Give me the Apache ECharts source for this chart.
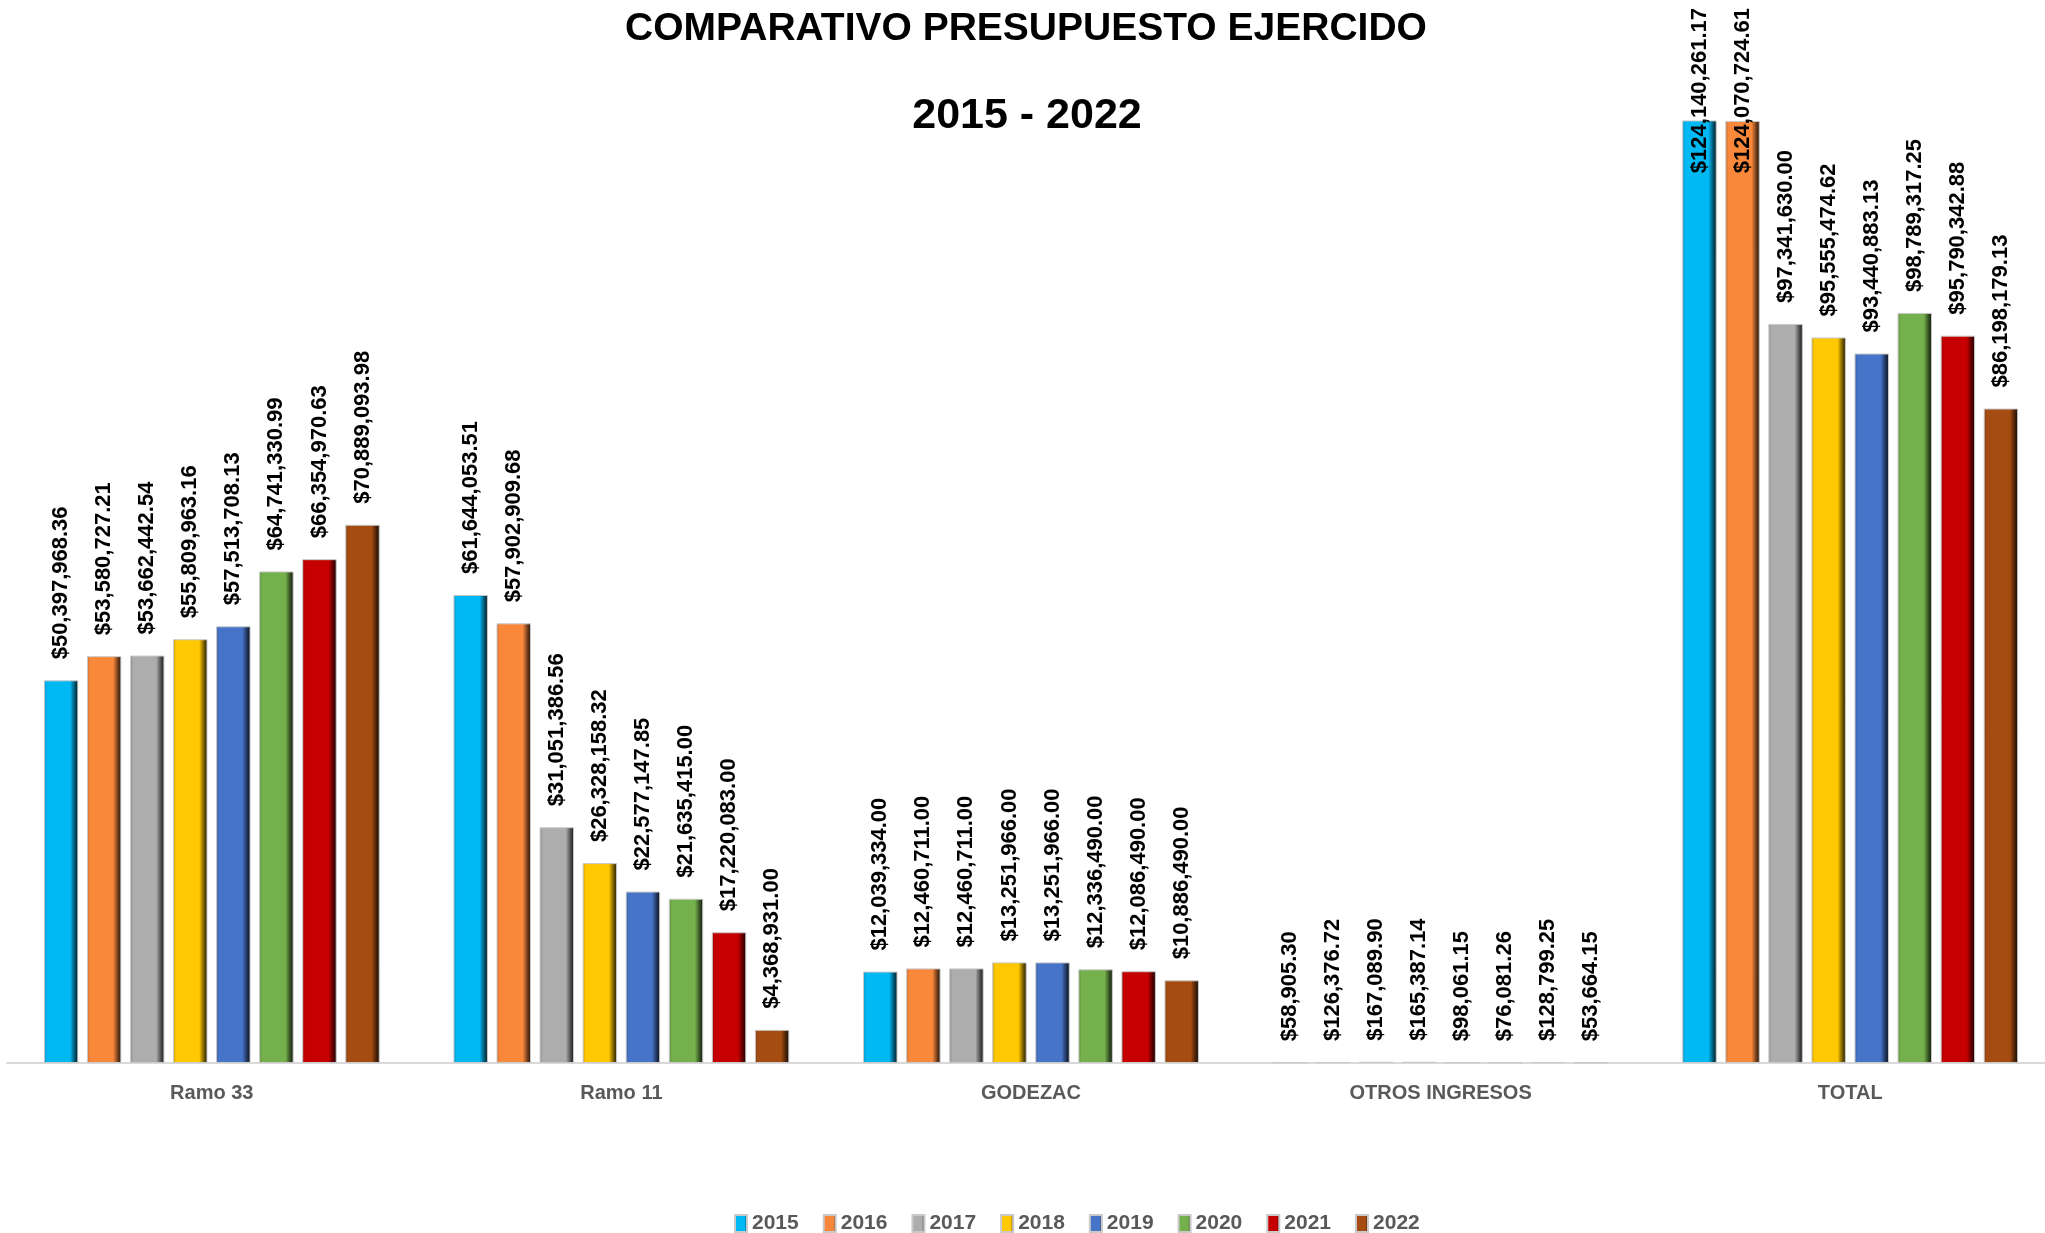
<!DOCTYPE html>
<html>

<head>
    <meta charset="UTF-8">
    <title>Comparativo presupuesto ejercido</title>
    <style>
        html, body { margin: 0; padding: 0; background: #fff; overflow: hidden; }
        /* un poco más ancho que la ventana: el área del gráfico en Excel sale por la derecha */
        #container { width: 2060px; height: 1233px; }
    </style>
</head>

<body>
    <div id="container"></div>
    <script src="https://cdn.jsdelivr.net/npm/echarts@6/dist/echarts.min.js"></script>
    <script>
        var categories = ['Ramo 33', 'Ramo 11', 'GODEZAC', 'OTROS INGRESOS', 'TOTAL'];
        var years = ['2015', '2016', '2017', '2018', '2019', '2020', '2021', '2022'];

        var v2015 = [50397968.36, 61644053.51, 12039334.00, 58905.30, 124140261.17];
        var v2016 = [53580727.21, 57902909.68, 12460711.00, 126376.72, 124070724.61];
        var v2017 = [53662442.54, 31051386.56, 12460711.00, 167089.90, 97341630.00];
        var v2018 = [55809963.16, 26328158.32, 13251966.00, 165387.14, 95555474.62];
        var v2019 = [57513708.13, 22577147.85, 13251966.00, 98061.15, 93440883.13];
        var v2020 = [64741330.99, 21635415.00, 12336490.00, 76081.26, 98789317.25];
        var v2021 = [66354970.63, 17220083.00, 12086490.00, 128799.25, 95790342.88];
        var v2022 = [70889093.98, 4368931.00, 10886490.00, 53664.15, 86198179.13];

        var values = [v2015, v2016, v2017, v2018, v2019, v2020, v2021, v2022];
        var colors = ['#00b8f4', '#fa883b', '#adadad', '#ffc800', '#4674c8', '#74b04b', '#c60000', '#a54c12'];

        var LABEL_FONT = 'bold 22px "Liberation Sans"';
        var LABEL_DIST = 21;

        // oscurece un color hex (f = 1 igual, 0 negro)
        function shade(hex, f) {
            var n = parseInt(hex.slice(1), 16);
            var r = Math.round(((n >> 16) & 255) * f);
            var g = Math.round(((n >> 8) & 255) * f);
            var b = Math.round((n & 255) * f);
            return 'rgb(' + r + ',' + g + ',' + b + ')';
        }

        function bevel(hex) {
            return new echarts.graphic.LinearGradient(0, 0, 1, 0, [
                { offset: 0, color: shade(hex, 0.78) },
                { offset: 0.09, color: hex },
                { offset: 0.76, color: hex },
                { offset: 0.9, color: shade(hex, 0.45) },
                { offset: 1, color: shade(hex, 0.12) }
            ]);
        }

        function money(v) {
            return '$' + v.toLocaleString('en-US', { minimumFractionDigits: 2, maximumFractionDigits: 2 });
        }

        function buildSeries(data) {
            return years.map(function (y, i) {
                return {
                    name: y,
                    type: 'bar',
                    data: data[i],
                    barGap: '25%',
                    barCategoryGap: '18%',
                    itemStyle: {
                        color: bevel(colors[i]),
                        borderColor: '#c9c9c9',
                        borderWidth: 1
                    },
                    label: {
                        show: true,
                        position: 'top',
                        rotate: 90,
                        align: 'left',
                        verticalAlign: 'middle',
                        distance: LABEL_DIST,
                        color: '#000',
                        fontFamily: 'Liberation Sans',
                        fontWeight: 'bold',
                        fontSize: 22,
                        formatter: function (p) { return money(p.value); }
                    }
                };
            });
        }

        var myChart = echarts.init(document.getElementById('container'));
        myChart.setOption({
            animation: false,
            backgroundColor: '#ffffff',
            title: [
                {
                    text: 'COMPARATIVO PRESUPUESTO EJERCIDO',
                    left: 1026,
                    textAlign: 'center',
                    top: 9,
                    padding: 0,
                    textStyle: {
                        fontFamily: 'Liberation Sans',
                        fontWeight: 'bold',
                        fontSize: 39,
                        lineHeight: 40,
                        color: '#000'
                    }
                },
                {
                    text: '2015 - 2022',
                    left: 1027,
                    textAlign: 'center',
                    top: 95,
                    padding: 0,
                    textStyle: {
                        fontFamily: 'Liberation Sans',
                        fontWeight: 'bold',
                        fontSize: 43,
                        lineHeight: 42,
                        color: '#000'
                    }
                }
            ],
            legend: {
                data: years,
                left: 729,
                top: 1208,
                icon: 'rect',
                itemWidth: 12,
                itemHeight: 17,
                itemGap: 24,
                textStyle: {
                    color: '#595959',
                    fontFamily: 'Liberation Sans',
                    fontWeight: 'bold',
                    fontSize: 21
                }
            },
            grid: {
                left: 7,
                width: 2048,
                top: -3,
                bottom: 170,
                containLabel: false
            },
            xAxis: {
                type: 'category',
                data: categories,
                axisLine: { lineStyle: { color: '#d9d9d9', width: 2 } },
                axisTick: { show: false },
                axisLabel: {
                    margin: 20,
                    color: '#595959',
                    fontFamily: 'Liberation Sans',
                    fontWeight: 'bold',
                    fontSize: 20
                }
            },
            yAxis: {
                type: 'value',
                min: 0,
                max: 140000000,
                show: false,
                splitLine: { show: false }
            },
            series: buildSeries(values)
        });

        // como en Excel: si la etiqueta sale del área, se baja sobre la barra
        var ctx = document.createElement('canvas').getContext('2d');
        ctx.font = LABEL_FONT;
        var adjusted = values.map(function (arr) {
            return arr.map(function (v, j) {
                var top = myChart.convertToPixel({ gridIndex: 0 }, [j, v])[1];
                var w = ctx.measureText(money(v)).width;
                if (top - LABEL_DIST - w < 8) {
                    return { value: v, label: { distance: top - 8 - w } };
                }
                return v;
            });
        });
        myChart.setOption({ series: buildSeries(adjusted) });
    </script>
</body>

</html>
